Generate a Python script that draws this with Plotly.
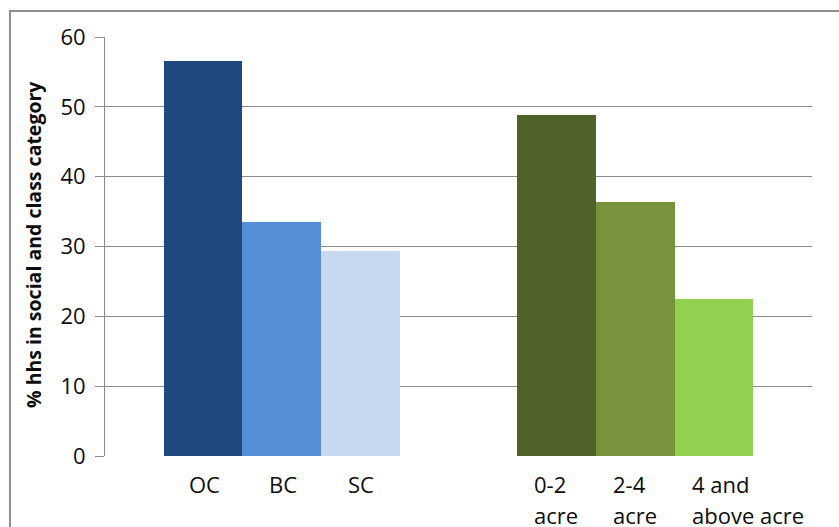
import plotly.graph_objects as go

# Share of households by social group and by land-holding size
social_groups = ["OC", "BC", "SC"]
social_values = [56.6, 33.5, 29.4]
social_colors = ["#1F497D", "#558ED5", "#C6D9F1"]

land_groups = ["0-2\nacre", "2-4\nacre", "4 and\nabove acre"]
land_values = [48.8, 36.4, 22.5]
land_colors = ["#4F6228", "#77933C", "#92D050"]

y_ticks = [0, 10, 20, 30, 40, 50, 60]
y_title = "% hhs in social and class category"

FONT = "Open Sans"
TEXT = "#0d0d0d"
GRID = "#8c8c8c"

# Bars sit side by side inside each group, with a gap of 1.5 bar widths between groups
GROUP_STRIDE = 4.5
groups = [
    (social_groups, social_values, social_colors),
    (land_groups, land_values, land_colors),
]

xs, ys, cols, labels = [], [], [], []
for g, (cats, vals, colors) in enumerate(groups):
    for i, (c, v, col) in enumerate(zip(cats, vals, colors)):
        xs.append(g * GROUP_STRIDE + i)
        ys.append(v)
        cols.append(col)
        labels.append(c)

fig = go.Figure(
    go.Bar(
        x=xs,
        y=ys,
        width=[1.0] * len(xs),
        marker=dict(color=cols, line=dict(width=0)),
        hovertext=[l.replace("\n", " ") for l in labels],
        hoverinfo="text+y",
    )
)

annotations = []
for x, lab in zip(xs, labels):
    lines = lab.split("\n")
    multi = len(lines) > 1
    for k, line in enumerate(lines):
        annotations.append(
            dict(
                x=(x - 0.5) if multi else x,
                y=0,
                xref="x",
                yref="y",
                text=line,
                showarrow=False,
                xanchor="left" if multi else "center",
                yanchor="middle",
                xshift=15 if multi else 1,
                yshift=-28 - 31 * k,
                font=dict(family=FONT, size=22, color=TEXT),
            )
        )

annotations.append(
    dict(
        x=-0.101,
        y=0.505,
        xref="paper",
        yref="paper",
        text=f"<b>{y_title}</b>",
        textangle=-90,
        showarrow=False,
        xanchor="center",
        yanchor="middle",
        font=dict(family=FONT, size=19.5, color=TEXT),
    )
)

fig.update_layout(
    width=839,
    height=527,
    margin=dict(l=105, r=27, t=37, b=71),
    paper_bgcolor="white",
    plot_bgcolor="white",
    showlegend=False,
    bargap=0,
    font=dict(family=FONT, color=TEXT),
    annotations=annotations,
    shapes=[
        dict(
            type="rect",
            xref="paper",
            yref="paper",
            x0=-0.1344,
            x1=1.1,
            y0=1.062,
            y1=-0.25,
            line=dict(color="#8f8f8f", width=2),
            fillcolor="rgba(0,0,0,0)",
            layer="below",
        )
    ],
    xaxis=dict(
        type="linear",
        range=[-1.25, GROUP_STRIDE + 2 + 1.25],
        showticklabels=False,
        showgrid=False,
        zeroline=False,
        showline=False,
        ticks="",
        fixedrange=True,
    ),
    yaxis=dict(
        range=[0, 60],
        tickvals=y_ticks,
        ticktext=[str(v) for v in y_ticks],
        tickfont=dict(family=FONT, size=22, color=TEXT),
        ticks="outside",
        ticklen=9,
        tickwidth=1,
        tickcolor=GRID,
        ticklabelstandoff=5,
        showgrid=True,
        gridcolor=GRID,
        gridwidth=1,
        zeroline=False,
        showline=True,
        linecolor=GRID,
        linewidth=1,
        fixedrange=True,
    ),
)

fig.write_html("out.html")
